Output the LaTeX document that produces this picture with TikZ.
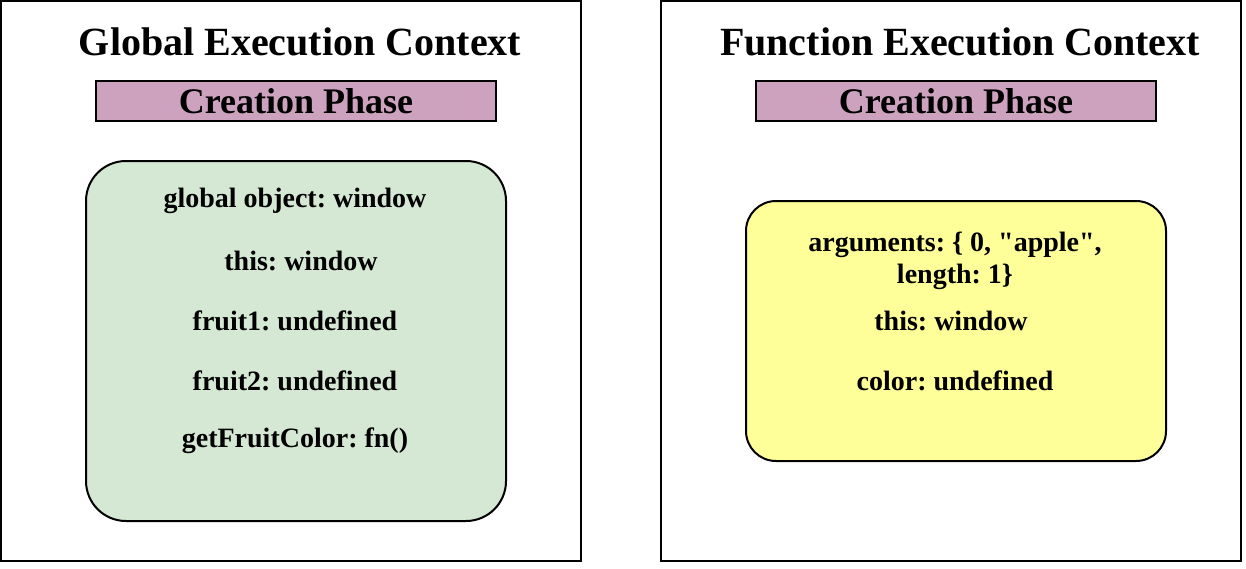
\documentclass[tikz,border=0pt]{standalone}
\usepackage{fontspec}
\setmainfont{Liberation Serif}[Ligatures=TeXOff]
\frenchspacing
\usetikzlibrary{positioning}
\definecolor{EcPurple}{HTML}{CDA2BE}
\definecolor{EcGreen}{HTML}{D5E8D4}
\definecolor{EcYellow}{HTML}{FFFF99}
\tikzset{
  ec/frame/.style={
    draw=black,
    line width=1pt,
    fill=white,
    minimum width=290pt,
    minimum height=280pt
  },
  ec/title/.style={font=\bfseries\fontsize{20}{24}\selectfont, text=black, inner sep=0pt},
  ec/phase/.style={
    draw=black,
    line width=0.8pt,
    fill=EcPurple,
    minimum width=200pt,
    minimum height=20pt,
    inner sep=0pt,
    font=\bfseries\fontsize{18}{20}\selectfont
  },
  ec/store/.style={
    draw=black,
    line width=1pt,
    minimum width=210pt,
    inner sep=0pt
  },
  ec/entry/.style={font=\bfseries\fontsize{14}{16}\selectfont, align=center, inner sep=0pt}
}

\begin{document}
\begin{tikzpicture}[x=0.5pt,y=-0.5pt]
  \useasboundingbox (0,0) rectangle (1246,568);
  % global context
  \node[ec/frame] (gec) at (291,281) {};
  \node[ec/title] (gtitle) at (300,42) {Global Execution Context};
  \node[ec/phase] (gphase) at (296,101) {Creation Phase};
  \node[ec/store,fill=EcGreen,rounded corners=20pt,minimum height=180pt] (gstore) at (296,341) {};
  \node[ec/entry] (gobj) at (295,201) {global object: window};
  \node[ec/entry] (gthis) at (301,261) {this: window};
  \node[ec/entry] (gfruit1) at (295,321) {fruit1: undefined};
  \node[ec/entry] (gfruit2) at (295,381) {fruit2: undefined};
  \node[ec/entry] (gfn) at (295,441) {getFruitColor: fn()};
  % function context
  \node[ec/frame] (fec) at (951,281) {};
  \node[ec/title] (ftitle) at (960,42) {Function Execution Context};
  \node[ec/phase] (fphase) at (956,101) {Creation Phase};
  \node[ec/store,fill=EcYellow,rounded corners=15pt,minimum height=130pt] (fstore) at (956,331) {};
  \node[ec/entry] (fargs) at (955,261) {arguments: \{ 0, "apple",\\length: 1\}};
  \node[ec/entry] (fthis) at (951,321) {this: window};
  \node[ec/entry] (fcolor) at (955,381) {color: undefined};
\end{tikzpicture}
\end{document}
